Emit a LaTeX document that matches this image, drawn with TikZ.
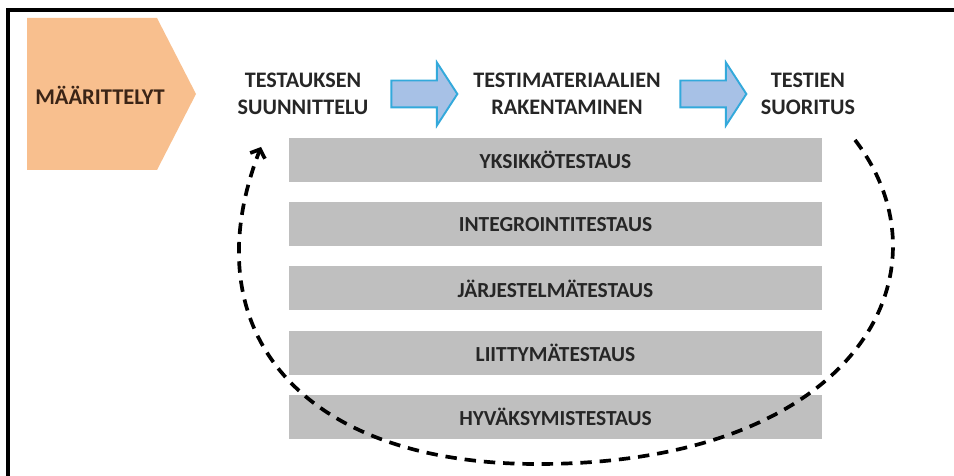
\documentclass[tikz,border=0pt]{standalone}
\usepackage{fontspec}
\setmainfont{Carlito}
\usepackage{xcolor}
\usepackage{tikz}
\usetikzlibrary{arrows.meta,positioning,shapes.arrows}

\definecolor{defcol}{HTML}{F8BF8E}
\definecolor{deftext}{HTML}{3B2416}
\definecolor{barcol}{HTML}{BFBFBF}
\definecolor{arrfill}{HTML}{A7C1E6}
\definecolor{arrline}{HTML}{33A9DB}
\definecolor{txtcol}{HTML}{262626}

\begin{document}
\begin{tikzpicture}[x=0.02cm,y=-0.02cm,node distance=0.39cm,
  phase/.style={align=center,text=txtcol,font=\fontsize{12.6}{15.4}\selectfont\bfseries},
  level/.style={fill=barcol,minimum width=10.66cm,minimum height=0.88cm,inner sep=0pt,
    text=txtcol,font=\fontsize{12.2}{14}\selectfont\bfseries},
  flow/.style={single arrow,draw=arrline,fill=arrfill,line width=1.1pt,
    minimum height=1.32cm,minimum width=1.22cm,inner xsep=0pt,inner ysep=0.25cm,
    single arrow head extend=0.36cm,single arrow tip angle=114},
  cycle/.style={line width=2.1pt,dash pattern=on 6.5pt off 4.5pt,
    -{Straight Barb[length=4pt,width=9pt]}}]

\useasboundingbox (0,0) rectangle (954,476);

% frame
\draw[line width=1.8pt] (954,10) -- (8,10) -- (8,476);

% definitions
\fill[defcol] (27,18) -- (157,18) -- (196,94) -- (157,170) -- (27,170) -- cycle;
\node[text=deftext,font=\fontsize{12.8}{15}\selectfont\bfseries] (D) at (100,95) {MÄÄRITTELYT};

% phases
\node[phase] (P_1) at (303,94) {TESTAUKSEN\\SUUNNITTELU};
\node[phase] (P_2) at (567,94) {TESTIMATERIAALIEN\\RAKENTAMINEN};
\node[phase] (P_3) at (808,94) {TESTIEN\\SUORITUS};

\node[flow] (F_1) at (420,94) {};
\node[flow] (F_2) at (709,94) {};

% test levels
\node[level] (L_1) at (555.5,160) {YKSIKKÖTESTAUS};
\node[level] (L_2) [below=of L_1] {INTEGROINTITESTAUS};
\node[level] (L_3) [below=of L_2] {JÄRJESTELMÄTESTAUS};
\node[level] (L_4) [below=of L_3] {LIITTYMÄTESTAUS};
\node[level] (L_5) [below=of L_4] {HYVÄKSYMISTESTAUS};

% loop back
\coordinate (C_s) at (855,140);
\coordinate (C_b) at (540,464);
\coordinate (C_e) at (261,147);
\draw[cycle] (C_s) .. controls (955,270) and (860,463) .. (C_b)
  .. controls (300,465) and (190,330) .. (C_e);

\end{tikzpicture}
\end{document}
